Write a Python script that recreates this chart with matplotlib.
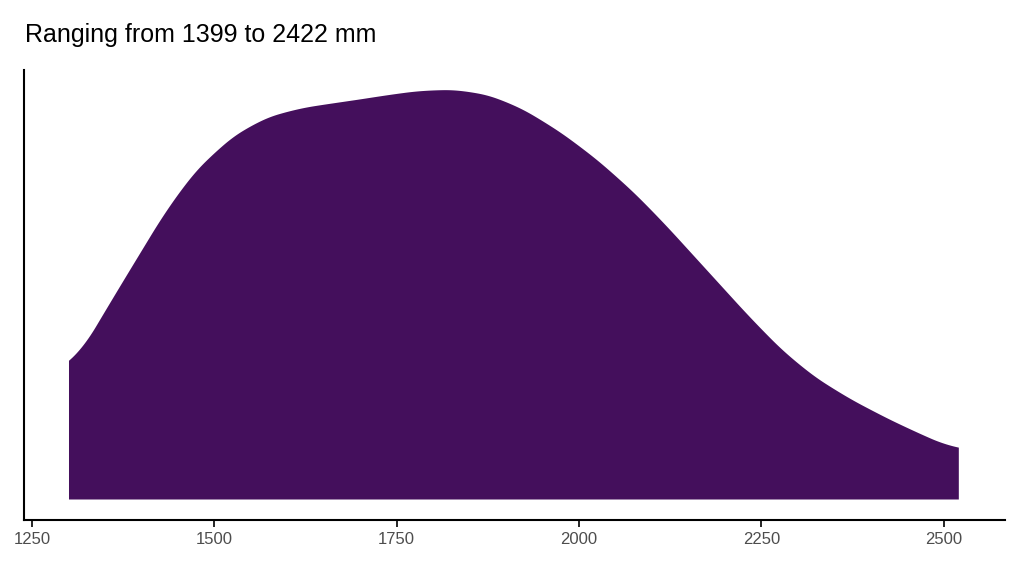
import numpy as np
import matplotlib
matplotlib.use("Agg")
import matplotlib.pyplot as plt

x = [1300,1350,1400,1450,1500,1550,1600,1650,1700,1750,1800,1850,1900,1950,2000,
     2050,2100,2150,2200,2250,2300,2350,2400,2450,2500,2520]
density = [127,189,249,309,349,376,389,395,400,406,410,409,399,379,354,
           324,289,249,209,169,134,109,89,71,55,49]
ticks = [1250,1500,1750,2000,2250,2500]
title = "Ranging from 1399 to 2422 mm"

plt.rcParams['font.family'] = ['Liberation Sans', 'DejaVu Sans']
fig = plt.figure(figsize=(10.24,5.76), dpi=100)
ax = fig.add_axes([24/1024, 1-520/576, 981/1024, 450/576])
xs = np.linspace(min(x), max(x), 500)
# smooth via Catmull-Rom-ish: use cubic through np.polyfit segments -> simple smoothing of linear interp
ys = np.interp(xs, x, density)
k = 15
ys_s = np.convolve(np.pad(ys, k, mode='edge'), np.ones(2*k+1)/(2*k+1), mode='valid')
ax.fill_between(xs, 0, ys_s, color='#440F5C', linewidth=0)
ax.set_xlim(1239, 2584)
ax.set_ylim(-21, 429)
ax.set_xticks(ticks)
ax.set_xticklabels([str(t) for t in ticks], color='#4D4D4D', fontsize=12)
ax.set_yticks([])
for s in ['top','right']:
    ax.spines[s].set_visible(False)
for s in ['left','bottom']:
    ax.spines[s].set_linewidth(1.5)
ax.tick_params(axis='x', length=5, width=1.2)
fig.text(25/1024, 1-35/576, title, fontsize=18, va='center', ha='left')
fig.savefig('out.png')
